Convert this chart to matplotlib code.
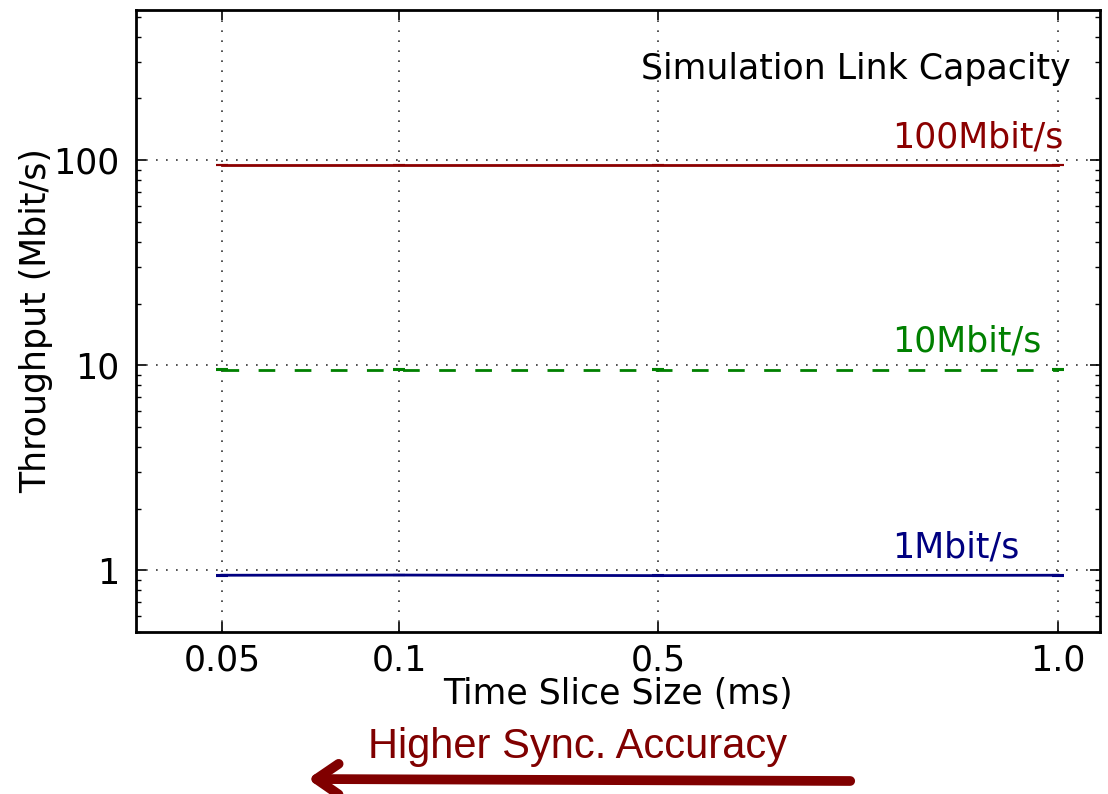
import matplotlib.pyplot as plt
import numpy as np
from matplotlib.patches import FancyArrowPatch
from matplotlib.ticker import LogLocator, NullFormatter, FixedLocator

# time slice sizes (ms) and where each one sits on the x axis
slice_labels = ['0.05', '0.1', '0.5', '1.0']
slice_pos = [0.0892, 0.2728, 0.5415, 0.9564]

# measured throughput (Mbit/s) per link capacity
tp_100 = [94.6, 94.6, 94.6, 94.6]
tp_10 = [9.52, 9.52, 9.52, 9.52]
tp_1 = [0.946, 0.948, 0.942, 0.946]

err_100 = [0.3, 0.3, 0.3, 0.3]
err_10 = [0.03, 0.03, 0.03, 0.03]
err_1 = [0.003, 0.003, 0.005, 0.003]

link_names = ['100Mbit/s', '10Mbit/s', '1Mbit/s']
link_colors = ['#8b0000', '#008000', '#000080']

figure = plt.figure(figsize=(11.08, 7.94), dpi=100)
axis = figure.add_axes([0.1227, 0.204, 0.8701, 0.7834])

# --- the three throughput series ---
series = [(tp_100, err_100, '-'), (tp_10, err_10, '--'), (tp_1, err_1, '-')]
for (vals, errs, ls), col, name in zip(series, link_colors, link_names):
    line = axis.errorbar(slice_pos, vals, yerr=errs, color=col, lw=2,
                         ls=ls, capsize=4, capthick=1.5, elinewidth=1.2)
    if ls == '--':
        line[0].set_dashes([6, 7])
    axis.text(0.784, vals[0] * 1.13, name, color=col, fontsize=25,
              ha='left', va='bottom', transform=axis.get_yaxis_transform())

axis.text(0.970, 0.905, 'Simulation Link Capacity', fontsize=25,
          ha='right', va='center', transform=axis.transAxes)

# --- axes setup ---
axis.set_yscale('log')
axis.set_ylim(0.5, 540)
axis.set_xlim(0, 1)
axis.set_yticks([1, 10, 100])
axis.set_yticklabels(['1', '10', '100'])
axis.yaxis.set_minor_locator(LogLocator(base=10, subs=np.arange(2, 10)))
axis.yaxis.set_minor_formatter(NullFormatter())
axis.xaxis.set_major_locator(FixedLocator(slice_pos))
axis.set_xticklabels(slice_labels)

axis.tick_params(which='both', direction='in', top=True, right=True,
                 labelsize=25, color='black')
axis.tick_params(which='major', length=7, width=1.2)
axis.tick_params(which='minor', length=3.5, width=1)
axis.tick_params(axis='y', pad=12)
axis.tick_params(axis='x', pad=8)
for sp in axis.spines.values():
    sp.set_linewidth(2)

axis.grid(True, which='major', ls=(0, (1, 5)), color='#333333', lw=1.2)

axis.set_xlabel('Time Slice Size (ms)', fontsize=25, labelpad=0)
axis.set_ylabel('Throughput (Mbit/s)', fontsize=25, labelpad=0)

# --- direction hint below the plot ---
figure.text(0.521, 0.059, 'Higher Sync. Accuracy', color='#800000', fontsize=30,
            family=['Liberation Sans Narrow', 'Liberation Sans'],
            ha='center', va='center')
arrow = FancyArrowPatch((853 / 1108, 1 - 781 / 794), (305 / 1108, 1 - 779 / 794),
                        transform=figure.transFigure, arrowstyle='->,head_length=16,head_width=11',
                        color='#800000', lw=7, mutation_scale=1)
figure.add_artist(arrow)

plt.savefig('out.png', dpi=100)
